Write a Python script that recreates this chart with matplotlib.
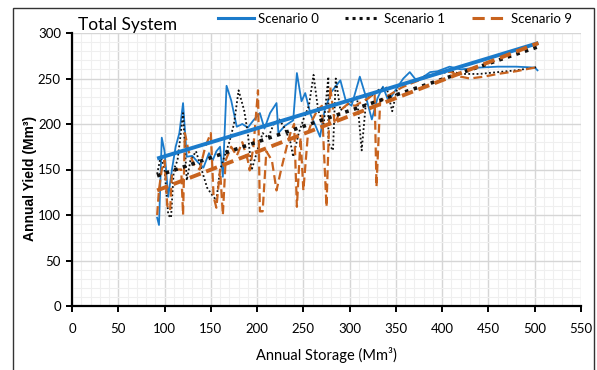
import matplotlib
matplotlib.use("Agg")
import matplotlib.pyplot as plt
from matplotlib.patches import Rectangle
from matplotlib.ticker import MultipleLocator

# ---- data ----
s0_x = [92, 94, 97, 100, 104, 108, 112, 116, 120, 124, 130, 136, 142, 148, 152, 156, 160, 163, 167, 172,
        178, 184, 190, 196, 203, 208, 214, 221, 223, 230, 239, 243, 248, 252, 258, 264, 268, 273, 280, 290,
        296, 302, 311, 317, 324, 330, 336, 342, 350, 358, 365, 372, 380, 387, 395, 408, 420, 440, 460, 480,
        500, 503]
s0_y = [97, 89, 185, 170, 120, 150, 175, 190, 223, 164, 165, 158, 152, 168, 160, 170, 175, 142, 242, 226,
        197, 200, 196, 204, 212, 195, 212, 223, 190, 198, 204, 256, 225, 234, 210, 196, 186, 215, 235, 248,
        225, 220, 252, 232, 205, 228, 241, 225, 238, 250, 257, 248, 252, 257, 258, 263, 260, 262, 263, 263,
        262, 259]

s1_x = [92, 96, 100, 104, 107, 110, 114, 117, 120, 124, 128, 134, 140, 146, 150, 156, 160, 165, 170, 175,
        180, 186, 190, 194, 200, 206, 212, 218, 224, 230, 236, 239, 245, 250, 256, 261, 266, 272, 277, 277,
        282, 285, 290, 296, 302, 308, 313, 318, 325, 332, 340, 346, 352, 360, 370, 380, 390, 400, 410, 420,
        440, 460, 480, 500, 503]
s1_y = [145, 165, 150, 100, 97, 150, 160, 185, 212, 138, 160, 170, 150, 130, 124, 116, 150, 165, 180, 200,
        237, 215, 190, 149, 170, 190, 185, 200, 205, 195, 180, 164, 190, 205, 220, 254, 215, 200, 252, 179,
        171, 250, 215, 220, 225, 230, 171, 228, 232, 238, 240, 214, 242, 245, 248, 252, 254, 256, 258, 255,
        255, 257, 259, 262, 263]

s9_x = [92, 94, 97, 100, 103, 106, 108, 112, 118, 120, 122, 126, 132, 138, 144, 150, 153, 156, 160, 163,
        166, 172, 178, 184, 190, 192, 196, 201, 203, 206, 210, 216, 221, 226, 232, 236, 240, 243, 247, 250,
        255, 260, 265, 270, 275, 279, 284, 290, 298, 306, 314, 320, 327, 329, 333, 340, 348, 356, 365, 375,
        385, 392, 400, 410, 420, 430, 445, 460, 480, 500, 503]
s9_y = [100, 128, 150, 160, 110, 105, 145, 150, 150, 100, 190, 170, 155, 150, 175, 190, 120, 108, 150, 100,
        160, 175, 165, 180, 160, 149, 175, 237, 104, 104, 170, 160, 127, 150, 175, 190, 200, 109, 185, 127,
        190, 205, 215, 220, 109, 241, 200, 215, 222, 220, 225, 228, 234, 131, 225, 230, 235, 240, 244, 248,
        252, 255, 258, 257, 252, 250, 252, 255, 258, 262, 263]

# linear trend lines (end points)
trend_x = [92, 504]
trend0 = [162, 289]
trend1 = [143, 285]
trend9 = [127, 289]

labels = ["Scenario 0", "Scenario 1", "Scenario 9"]
x_ticks = list(range(0, 551, 50))
y_ticks = list(range(0, 301, 50))

BLUE = "#1B7BCB"
ORANGE = "#C8631E"
BLACK = "#111111"
FONT = "Lato"

W, H = 597, 370
fig = plt.figure(figsize=(W / 100, H / 100), dpi=100)
ax = fig.add_axes([72 / W, 1 - 306 / H, (581 - 72) / W, (306 - 33) / H])

# border
fig.patches.append(Rectangle((13 / W, -0.05), (594 - 13) / W, (1 - 8 / H) + 0.05,
                             transform=fig.transFigure, fill=False, edgecolor="#333333", lw=1.0))

ax.set_xlim(0, 550)
ax.set_ylim(0, 300)
ax.xaxis.set_major_locator(MultipleLocator(50))
ax.yaxis.set_major_locator(MultipleLocator(50))
ax.xaxis.set_minor_locator(MultipleLocator(10))
ax.yaxis.set_minor_locator(MultipleLocator(10))
ax.grid(which="major", color="#d6d6d6", lw=1.0)
ax.grid(which="minor", color="#efefef", lw=0.8)
ax.set_axisbelow(True)

l0, = ax.plot(s0_x, s0_y, color=BLUE, lw=1.3, label=labels[0])
l1, = ax.plot(s1_x, s1_y, color=BLACK, lw=1.3, ls=(0, (1, 1.3)), label=labels[1])
l9, = ax.plot(s9_x, s9_y, color=ORANGE, lw=1.6, ls=(0, (4, 2)), label=labels[2])

ax.plot(trend_x, trend0, color=BLUE, lw=2.8, solid_capstyle="butt")
ax.plot(trend_x, trend1, color=BLACK, lw=2.6, ls=(0, (1, 1.5)))
ax.plot(trend_x, trend9, color=ORANGE, lw=2.8, ls=(0, (3, 1.5)))

for s in ["top", "right"]:
    ax.spines[s].set_visible(False)
for s in ["left", "bottom"]:
    ax.spines[s].set_linewidth(1.6)
    ax.spines[s].set_color("black")
ax.tick_params(which="major", direction="out", length=4, width=1.4, color="black", labelsize=9.5, pad=4)
ax.tick_params(which="minor", length=0)
ax.set_xticks(x_ticks)
ax.set_yticks(y_ticks)
for t in ax.get_xticklabels() + ax.get_yticklabels():
    t.set_fontfamily(FONT)
ax.tick_params(axis="x", pad=8)
ax.tick_params(axis="y", pad=4)

ax.set_xlabel("Annual Storage (Mm³)", fontfamily=FONT, fontsize=10.5, labelpad=9)
fig.text(30 / W, 1 - 178 / H, "Annual Yield (Mm³)", rotation=90, ha="center", va="center",
         fontfamily="Liberation Sans", fontweight="bold", fontsize=10)

fig.text(78 / W, 1 - 25 / H, "Total System", fontfamily=FONT, fontsize=12.5, ha="left", va="center")

leg = fig.legend(handles=[l0, l1, l9], loc="center left", bbox_to_anchor=(218 / W, 1 - 19 / H),
                 ncol=3, frameon=False, prop={"family": FONT, "size": 9.5},
                 handlelength=2.7, handletextpad=0.3, columnspacing=2.0, borderpad=0, borderaxespad=0)
for h in leg.get_lines():
    h.set_linewidth(2.2)

fig.savefig("out.png", dpi=100)
